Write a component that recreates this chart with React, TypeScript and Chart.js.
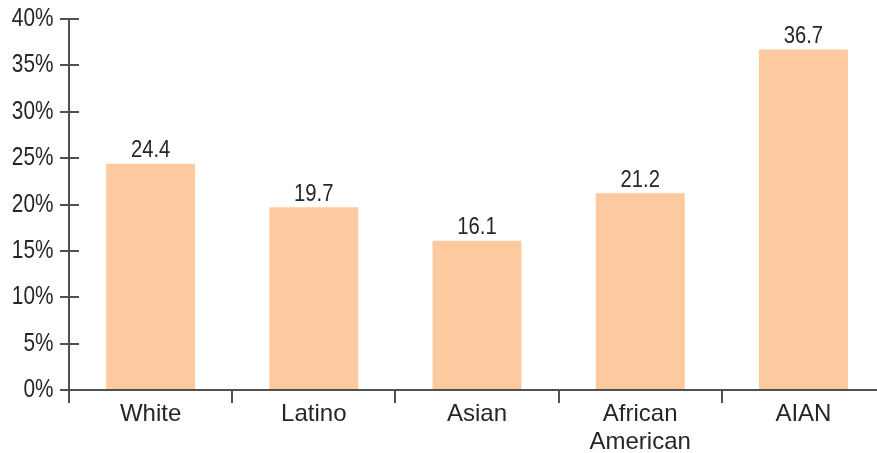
import React, { useEffect, useRef } from "react";
import { Chart, registerables } from "chart.js";

Chart.register(...registerables);

const categories: string[][] = [["White"], ["Latino"], ["Asian"], ["African", "American"], ["AIAN"]];
const rates: number[] = [24.4, 19.7, 16.1, 21.2, 36.7];
const yTicks: number[] = [0, 5, 10, 15, 20, 25, 30, 35, 40];

const AXIS = "#505050";
const TEXT = "#262626";
const BAR = "#FDCA9F";
const FONT = "'Liberation Sans', Arial, sans-serif";

// draws text squeezed horizontally to mimic a condensed face
function condensedText(ctx: CanvasRenderingContext2D, text: string, x: number, y: number, sx: number, align: CanvasTextAlign) {
  ctx.save();
  ctx.translate(x, y);
  ctx.scale(sx, 1);
  ctx.textAlign = align;
  ctx.fillText(text, 0, 0);
  ctx.restore();
}

// y tick labels plus short tick marks pointing into the plot
const yAxisDecor = {
  id: "yAxisDecor",
  afterDatasetsDraw(chart: any) {
    const y = chart.scales.y;
    const ctx = chart.ctx;
    ctx.save();
    ctx.strokeStyle = AXIS;
    ctx.lineWidth = 2;
    ctx.fillStyle = TEXT;
    ctx.font = `26px ${FONT}`;
    ctx.textBaseline = "alphabetic";
    yTicks.forEach((v) => {
      const py = Math.round(y.getPixelForValue(v));
      if (v !== 0) {
        ctx.beginPath();
        ctx.moveTo(y.right, py);
        ctx.lineTo(y.right + 10, py);
        ctx.stroke();
      }
      condensedText(ctx, v + "%", 53.5, py + 7, 0.8, "right");
    });
    ctx.restore();
  },
};

// category names under the x axis
const xLabels = {
  id: "xLabels",
  afterDraw(chart: any) {
    const x = chart.scales.x;
    const ctx = chart.ctx;
    ctx.save();
    ctx.fillStyle = TEXT;
    ctx.font = `24px ${FONT}`;
    ctx.textAlign = "center";
    ctx.textBaseline = "alphabetic";
    const top = chart.chartArea.bottom;
    categories.forEach((lines, i) => {
      const px = x.getPixelForTick(i);
      lines.forEach((line, j) => {
        ctx.fillText(line, px, top + 31 + j * 28);
      });
    });
    ctx.restore();
  },
};

// value printed above each bar
const valueLabels = {
  id: "valueLabels",
  afterDatasetsDraw(chart: any) {
    const ctx = chart.ctx;
    const meta = chart.getDatasetMeta(0);
    ctx.save();
    ctx.font = `23px ${FONT}`;
    ctx.fillStyle = TEXT;
    ctx.textBaseline = "alphabetic";
    meta.data.forEach((bar: any, i: number) => {
      condensedText(ctx, rates[i].toFixed(1), bar.x, bar.y - 6.5, 0.88, "center");
    });
    ctx.restore();
  },
};

export default function App() {
  const ref = useRef<HTMLCanvasElement | null>(null);

  useEffect(() => {
    if (!ref.current) return;
    const chart = new Chart(ref.current, {
      type: "bar",
      data: {
        labels: categories.map((c) => c.join(" ")),
        datasets: [
          {
            data: rates,
            backgroundColor: BAR,
            borderWidth: 0,
            barPercentage: 0.545,
            categoryPercentage: 1,
          },
        ],
      },
      options: {
        animation: false,
        responsive: true,
        maintainAspectRatio: false,
        layout: { padding: { top: 19, right: 15, left: 0, bottom: 0 } },
        plugins: {
          legend: { display: false },
          tooltip: { enabled: false },
        },
        scales: {
          x: {
            offset: true,
            grid: {
              offset: true,
              drawOnChartArea: false,
              drawTicks: true,
              tickLength: 13,
              color: AXIS,
              lineWidth: 2,
            },
            border: { color: AXIS, width: 2 },
            ticks: { display: false, autoSkip: false },
            afterFit(scale: any) {
              scale.height = 63;
            },
          },
          y: {
            min: 0,
            max: 40,
            afterBuildTicks(scale: any) {
              scale.ticks = yTicks.map((v) => ({ value: v }));
            },
            grid: {
              drawOnChartArea: false,
              drawTicks: true,
              tickLength: 9,
              color: AXIS,
              lineWidth: 2,
            },
            border: { color: AXIS, width: 2 },
            ticks: { display: false },
            afterFit(scale: any) {
              scale.width = 69;
            },
          },
        },
      },
      plugins: [yAxisDecor, xLabels, valueLabels],
    });
    return () => chart.destroy();
  }, []);

  return (
    <div style={{ position: "absolute", left: 0, top: 0, width: 877, height: 453, overflow: "hidden", background: "#fff" }}>
      <div style={{ position: "relative", width: 900, height: 453 }}>
        <canvas ref={ref} />
      </div>
    </div>
  );
}
